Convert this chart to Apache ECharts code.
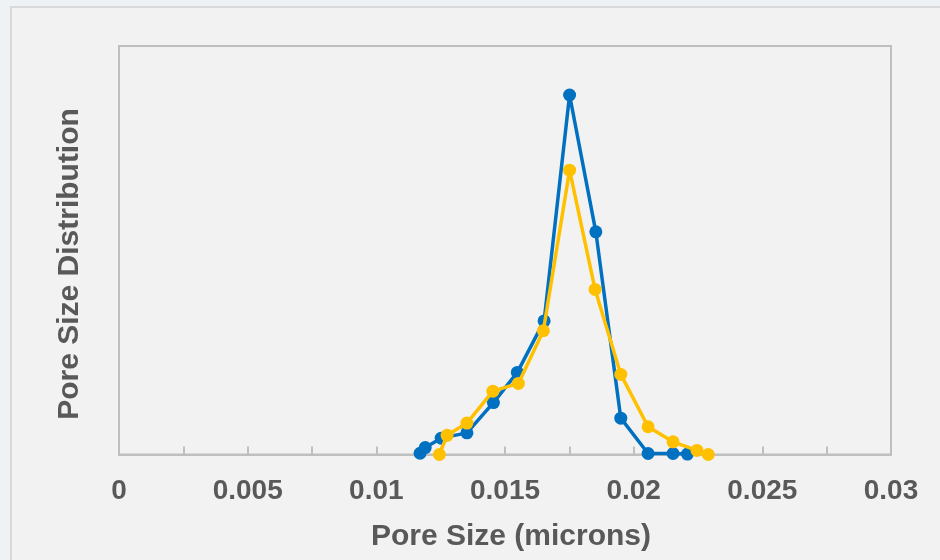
<!DOCTYPE html>
<html>
<head>
<meta charset="utf-8">
<script src="https://cdn.jsdelivr.net/npm/echarts@6/dist/echarts.min.js"></script>
<style>
  html, body { margin: 0; padding: 0; background: #eef2f5; }
  #chart { width: 940px; height: 560px; }
</style>
</head>
<body>
<div id="chart"></div>
<script>
// Pore size (microns) and relative distribution for the two samples
const blueSize = [0.01170, 0.01190, 0.01252, 0.01352, 0.01455, 0.01548, 0.01652, 0.01751, 0.01853, 0.01950, 0.02056, 0.02153, 0.02209];
const blueDist = [0.3, 1.7, 4.0, 5.3, 12.7, 20.1, 32.7, 88.0, 54.5, 8.9, 0.25, 0.25, 0.1];
const yellowSize = [0.01245, 0.01275, 0.01352, 0.01453, 0.01552, 0.01649, 0.01751, 0.01850, 0.01950, 0.02056, 0.02153, 0.02246, 0.02290];
const yellowDist = [0, 4.7, 7.7, 15.5, 17.4, 30.3, 69.6, 40.4, 19.6, 6.8, 3.1, 1.0, 0];
const xTickLabels = ['0', '0.005', '0.01', '0.015', '0.02', '0.025', '0.03'];

const textColor = '#595959';
const fontFamily = 'Liberation Sans, Arial, sans-serif';

const chart = echarts.init(document.getElementById('chart'), null, { renderer: 'canvas' });

function pairs(xs, ys) {
  return xs.map((x, i) => [x, ys[i]]);
}

chart.setOption({
  animation: false,
  backgroundColor: 'transparent',
  graphic: [
    {
      type: 'rect',
      z: -10,
      silent: true,
      shape: { x: 11, y: 7, width: 960, height: 580 },
      style: { fill: '#f2f2f2', stroke: '#d9d9d9', lineWidth: 2 }
    },
    {
      type: 'text',
      x: 70, y: 264,
      rotation: Math.PI / 2,
      style: {
        text: 'Pore Size Distribution',
        fill: textColor,
        font: 'bold 30px ' + fontFamily,
        align: 'center',
        verticalAlign: 'middle'
      }
    },
    {
      type: 'text',
      x: 511, y: 537,
      style: {
        text: 'Pore Size (microns)',
        fill: textColor,
        font: 'bold 30px ' + fontFamily,
        align: 'center',
        verticalAlign: 'middle'
      }
    }
  ],
  grid: {
    left: 119, top: 46, width: 772, height: 408.5,
    show: true,
    backgroundColor: 'transparent',
    borderColor: '#bfbfbf',
    borderWidth: 2
  },
  xAxis: {
    type: 'value',
    min: 0, max: 0.03, interval: 0.0025,
    axisLine: { show: true, lineStyle: { color: '#bfbfbf', width: 2 } },
    axisTick: { show: true, inside: true, length: 8, lineStyle: { color: '#bfbfbf', width: 2 } },
    splitLine: { show: false },
    axisLabel: {
      margin: 23,
      color: textColor,
      fontSize: 28,
      fontWeight: 'bold',
      fontFamily: fontFamily,
      formatter: function (v) {
        const k = Math.round(v / 0.0025);
        return k % 2 === 0 ? xTickLabels[k / 2] : '';
      }
    }
  },
  yAxis: {
    type: 'value',
    min: 0, max: 100,
    axisLine: { show: false },
    axisTick: { show: false },
    axisLabel: { show: false },
    splitLine: { show: false }
  },
  series: [
    {
      type: 'line',
      data: pairs(blueSize, blueDist),
      symbol: 'circle',
      symbolSize: 13,
      lineStyle: { color: '#0070c0', width: 3.5 },
      itemStyle: { color: '#0070c0' },
      z: 2
    },
    {
      type: 'line',
      data: pairs(yellowSize, yellowDist),
      symbol: 'circle',
      symbolSize: 13,
      lineStyle: { color: '#ffc000', width: 3.5 },
      itemStyle: { color: '#ffc000' },
      z: 3
    }
  ]
});
</script>
</body>
</html>
